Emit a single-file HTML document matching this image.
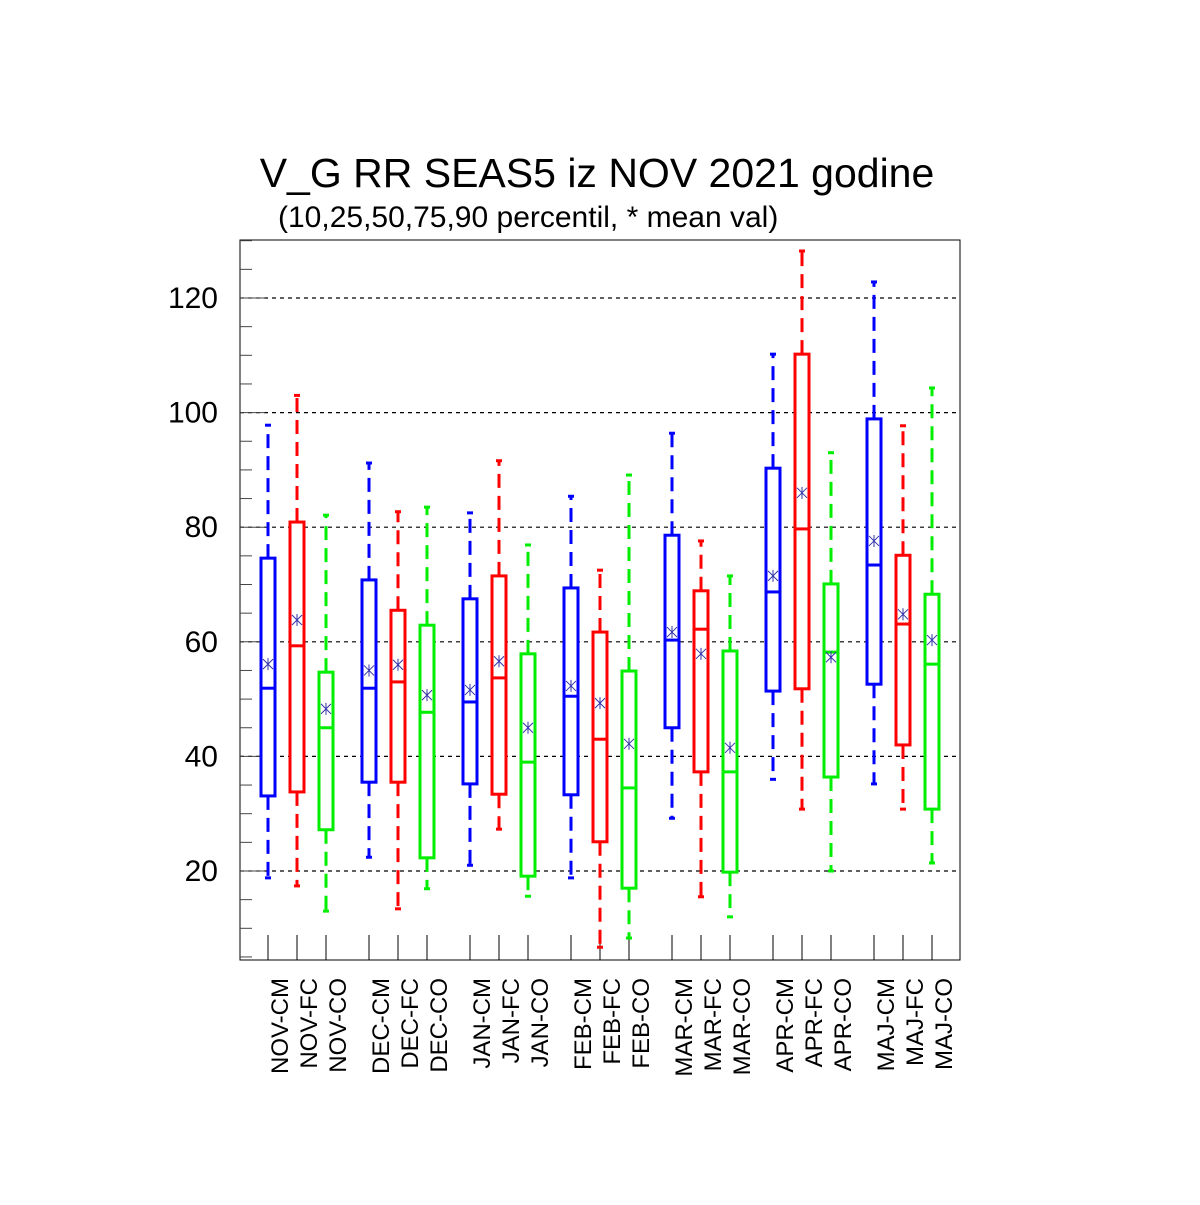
<!DOCTYPE html>
<html><head><meta charset="utf-8"><style>
body{margin:0;background:#fff}
svg text{font-family:"Liberation Sans",sans-serif}
</style></head><body>
<svg id="chart" width="1200" height="1200" xmlns="http://www.w3.org/2000/svg">
<rect width="1200" height="1200" fill="#fff"/>
<text x="597" y="187" font-size="41" text-anchor="middle">V_G RR SEAS5 iz NOV 2021 godine</text>
<text x="278" y="227" font-size="30">(10,25,50,75,90 percentil, * mean val)</text>
<g id="grid"></g><g id="axes"></g><g id="marks"></g>
</svg>
<script>
const categories=["NOV-CM","NOV-FC","NOV-CO","DEC-CM","DEC-FC","DEC-CO","JAN-CM","JAN-FC","JAN-CO","FEB-CM","FEB-FC","FEB-CO","MAR-CM","MAR-FC","MAR-CO","APR-CM","APR-FC","APR-CO","MAJ-CM","MAJ-FC","MAJ-CO"];
const p10=[18.8,17.4,13,22.4,13.4,16.9,21,27.3,15.6,18.8,6.7,8.3,29.2,15.5,12,36,30.8,20,35.2,30.8,21.4];
const q1=[33.1,33.8,27.2,35.5,35.5,22.3,35.2,33.4,19.1,33.3,25.1,17,45,37.3,19.8,51.4,51.8,36.4,52.6,42,30.8];
const median=[51.9,59.3,45,51.9,53,47.7,49.5,53.7,39,50.5,43,34.5,60.3,62.2,37.3,68.7,79.7,58.2,73.4,63.1,56.1];
const q3=[74.6,80.9,54.7,70.8,65.5,62.9,67.5,71.5,57.9,69.4,61.7,54.9,78.6,68.9,58.4,90.3,110.2,70.1,98.9,75.1,68.3];
const p90=[97.8,103,82.1,91.2,82.7,83.5,82.5,91.6,76.9,85.4,72.5,89.1,96.4,77.6,71.5,110.2,128.2,93,122.8,97.7,104.3];
const means=[56.1,63.8,48.3,55,56,50.7,51.6,56.6,45,52.3,49.3,42.2,61.7,57.9,41.5,71.5,86,57.3,77.6,64.8,60.3];
const yTicks=[20,40,60,80,100,120];
const colors=["#0000ff","#ff0000","#00ee00"];
const NS="http://www.w3.org/2000/svg";
const L=240,R=960,T=240,B=960;
function y(v){return 298+(120-v)*5.73;}
function x(i){return 268+Math.floor(i/3)*101+(i%3)*29;}
function mk(p,tag,a){const e=document.createElementNS(NS,tag);for(const k in a)e.setAttribute(k,a[k]);p.appendChild(e);return e;}
const grid=document.getElementById('grid'),axes=document.getElementById('axes'),marks=document.getElementById('marks');
yTicks.forEach(v=>{
 const g=mk(grid,'line',{x1:L,x2:R,y1:y(v),y2:y(v),stroke:'#000','stroke-width':1.2,'stroke-dasharray':'4,4'});
 
 
 const t=mk(axes,'text',{x:218,y:y(v)+10,'font-size':30,'text-anchor':'end'});t.textContent=v;
 
 
});
const fr=mk(axes,'rect',{x:L,y:T,width:R-L,height:B-T,fill:'none',stroke:'#000','stroke-width':1});


for(let v=5;v<=130;v+=5){
 const maj=v%20===0;const tk=mk(axes,'line',{x1:L,x2:L+(maj?25:12),y1:y(v),y2:y(v),stroke:'#444','stroke-width':1});
 
 
}
categories.forEach((c,i)=>{
 const cx=x(i),col=colors[i%3];
 const tk=mk(axes,'line',{x1:cx,x2:cx,y1:B-25,y2:B,stroke:'#000','stroke-width':1});
 
 
 const t=mk(axes,'text',{x:0,y:0,'font-size':24,'text-anchor':'end',transform:`translate(${cx+20},978) rotate(-90)`});t.textContent=c;
 
 
 const g=mk(marks,'g',{});
 
 
 mk(g,'line',{x1:cx,x2:cx,y1:y(q3[i]),y2:y(p90[i]),stroke:col,'stroke-width':3,'stroke-dasharray':'14,8'});
 mk(g,'line',{x1:cx,x2:cx,y1:y(q1[i]),y2:y(p10[i]),stroke:col,'stroke-width':3,'stroke-dasharray':'14,8'});
 mk(g,'line',{x1:cx-3,x2:cx+3,y1:y(p90[i]),y2:y(p90[i]),stroke:col,'stroke-width':3});
 mk(g,'line',{x1:cx-3,x2:cx+3,y1:y(p10[i]),y2:y(p10[i]),stroke:col,'stroke-width':3});
 mk(g,'rect',{x:cx-7,y:y(q3[i]),width:14,height:y(q1[i])-y(q3[i]),fill:'#fff',stroke:col,'stroke-width':3});
 mk(g,'line',{x1:cx-7,x2:cx+7,y1:y(median[i]),y2:y(median[i]),stroke:col,'stroke-width':3});
 const my=y(means[i]);
 const m=mk(marks,'path',{d:`M${cx-5},${my-5}L${cx+5},${my+5}M${cx-5},${my+5}L${cx+5},${my-5}M${cx},${my-6}L${cx},${my+6}`,stroke:'#3333aa','stroke-width':1,fill:'none'});
 
 
});
</script>
</body></html>
